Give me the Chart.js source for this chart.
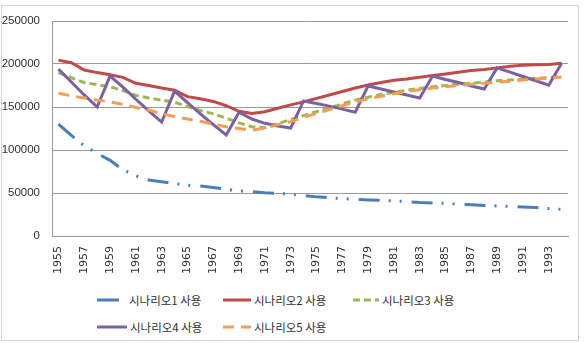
<!DOCTYPE html>
<html>
<head>
<meta charset="utf-8">
<script src="https://cdn.jsdelivr.net/npm/chart.js@4.4.0/dist/chart.umd.min.js"></script>
<style>
    body { margin: 0; background: #fff; }
    #wrap { position: relative; width: 585px; height: 343px; overflow: hidden; }
    #frame { position: absolute; left: 1px; top: 5px; width: 578px; height: 336px; border: 1px solid #d4d4d4; box-sizing: border-box; }
    #chartBox { position: absolute; left: 0; top: 0; width: 585px; height: 290px; }
    .item { position: absolute; display: flex; align-items: center; height: 16px; font: 11.5px "Noto Sans CJK KR", sans-serif; color: #303030; white-space: nowrap; }
    .item canvas { display: block; }
</style>
</head>
<body>
<div id="wrap">
    <div id="frame"></div>
    <div id="chartBox"><canvas id="lineChart" width="585" height="290"></canvas></div>
    <div id="legend"></div>
</div>
<script>
const years = ["1955","1956","1957","1958","1959","1960","1961","1962","1963","1964",
    "1965","1966","1967","1968","1969","1970","1971","1972","1973","1974",
    "1975","1976","1977","1978","1979","1980","1981","1982","1983","1984",
    "1985","1986","1987","1988","1989","1990","1991","1992","1993","1994"];

const seriesNames = ["시나리오1 사용", "시나리오2 사용", "시나리오3 사용", "시나리오4 사용", "시나리오5 사용"];

const scenario1 = [130000,117000,105000,96000,88000,77000,70000,65000,63000,61000,
    59000,58000,56500,54500,52500,51500,50300,49600,48500,47000,
    45500,44500,43500,42800,42000,41500,40800,40000,39000,38500,
    38000,37000,36200,35500,35000,34500,33800,33000,32000,31000];

const scenario2 = [204500,201500,193000,190000,187500,184500,177500,175000,172000,169500,
    162000,159500,156500,151500,145000,142500,144500,148500,152500,156000,
    160000,164000,168000,172000,175500,178500,181000,182500,184500,186500,
    188500,190500,192500,193500,195500,197500,198500,199000,199500,201000];

const scenario3 = [190000,184000,178500,176000,173500,169000,163500,160500,158000,155500,
    150500,146000,142000,137000,131500,127000,126000,130500,135500,140000,
    144500,149000,153500,158000,161500,164500,167000,169500,171500,173500,
    175000,176500,177500,179000,180500,181500,182500,183500,184000,185500];

const scenario4 = [194000,179000,164000,150000,186000,173000,159000,145500,132500,168500,
    155000,142000,129500,117500,144000,136000,131000,128000,125500,157000,
    154000,151000,147500,144000,174500,171000,167500,164000,160500,186000,
    182000,178500,174500,171000,195500,190500,185500,180500,175500,201000];

const scenario5 = [166000,163000,160500,158000,156000,153000,149500,146500,142000,139000,
    136000,133500,130000,127000,125000,123000,125500,129500,133000,138000,
    142500,147000,151500,156000,159500,162500,165500,168000,170000,172000,
    173500,175000,176500,177500,179000,180000,181500,182500,183500,185000];

const colors = ["#4a7ebb", "#be4b48", "#98b954", "#7d60a0", "#f59d56"];
const dashes = [[21, 9, 2, 9, 2, 10], [], [7, 4], [], [11, 7]];

const ctx = document.getElementById("lineChart").getContext("2d");

// series 5 ends up on top, like excel draws them
const datasets = [scenario1, scenario2, scenario3, scenario4, scenario5].map((data, i) => ({
    label: seriesNames[i],
    data: data,
    borderColor: colors[i],
    backgroundColor: colors[i],
    borderWidth: 3,
    borderDash: dashes[i],
    pointRadius: 0,
    tension: 0,
    fill: false,
    order: 5 - i
}));

const chart = new Chart(ctx, {
    type: "line",
    data: { labels: years, datasets: datasets },
    options: {
        responsive: false,
        animation: false,
        layout: { padding: { top: 21, right: 13, left: 0, bottom: 0 } },
        plugins: { legend: { display: false }, tooltip: { enabled: false } },
        scales: {
            x: {
                offset: true,
                grid: { display: false, drawTicks: false },
                border: { display: true, color: "#9a9a9a", width: 1 },
                ticks: {
                    autoSkip: false,
                    maxRotation: 90,
                    minRotation: 90,
                    padding: 10,
                    color: "#303030",
                    font: { family: "DejaVu Sans", size: 11 },
                    callback: (val, index) => index % 2 === 0 ? years[index] : ""
                },
                afterFit: (scale) => { scale.height = 54; }
            },
            y: {
                min: 0,
                max: 250000,
                grid: { color: "#9a9a9a", drawTicks: false },
                border: { display: true, color: "#9a9a9a", width: 1 },
                ticks: {
                    stepSize: 50000,
                    padding: 12,
                    color: "#303030",
                    font: { family: "Liberation Sans", size: 11.5 },
                    callback: (val) => String(val)
                },
                afterFit: (scale) => { scale.width = 52; }
            }
        }
    }
});

// legend in two rows, like the original
const legendSpots = [
    { x: 97, y: 292, w: 22 },
    { x: 223, y: 292, w: 28 },
    { x: 353, y: 292, w: 26 },
    { x: 97, y: 319, w: 30 },
    { x: 223, y: 319, w: 28 }
];
const legendEl = document.getElementById("legend");
chart.data.datasets.forEach((ds, i) => {
    const spot = legendSpots[i];
    const item = document.createElement("div");
    item.className = "item";
    item.style.left = spot.x + "px";
    item.style.top = spot.y + "px";

    const sample = document.createElement("canvas");
    sample.width = spot.w;
    sample.height = 6;
    const sctx = sample.getContext("2d");
    sctx.strokeStyle = ds.borderColor;
    sctx.lineWidth = 3;
    sctx.setLineDash(i === 0 ? [] : ds.borderDash);
    sctx.beginPath();
    sctx.moveTo(0, 3);
    sctx.lineTo(spot.w, 3);
    sctx.stroke();

    const text = document.createElement("span");
    text.textContent = ds.label;
    text.style.marginLeft = (i === 0 ? 10 : 3) + "px";

    item.appendChild(sample);
    item.appendChild(text);
    legendEl.appendChild(item);
});
</script>
</body>
</html>
